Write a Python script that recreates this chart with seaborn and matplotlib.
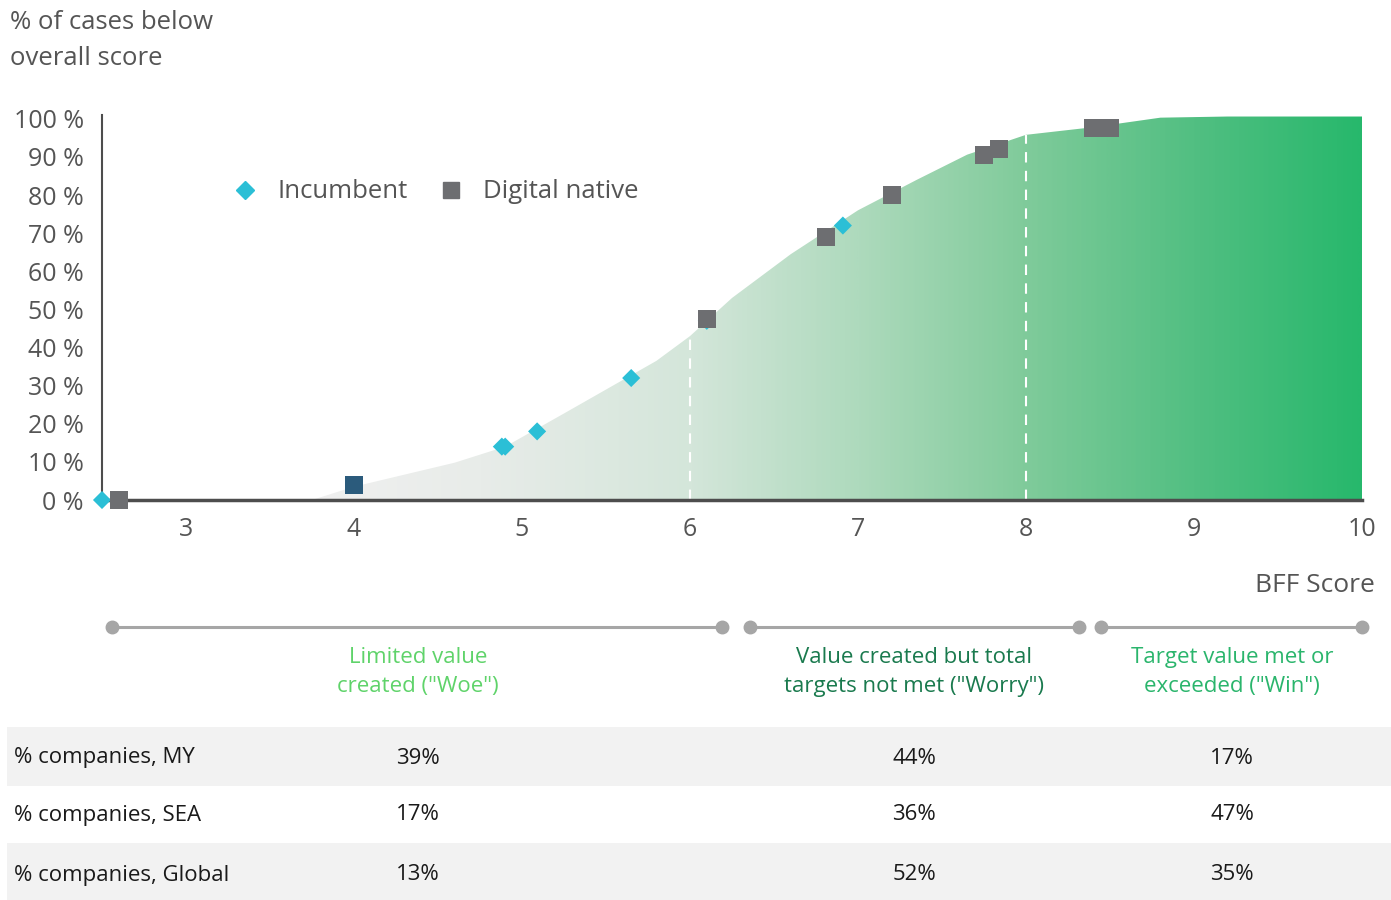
import numpy as np
import matplotlib
matplotlib.use("Agg")
import matplotlib.pyplot as plt
import seaborn as sns
from matplotlib.colors import LinearSegmentedColormap
from matplotlib.lines import Line2D

# cumulative share of cases below a given overall score
curve_score = [3.75, 4.0, 4.6, 4.9, 5.25, 5.8, 6.0, 6.25, 6.6, 7.0, 7.35, 7.65, 8.0, 8.4, 8.8, 9.2, 10.0]
curve_pct = [0, 3.5, 9.8, 14, 22.7, 36.5, 43, 53, 64.5, 76, 84, 90.6, 95.8, 97.8, 100.3, 100.6, 100.6]

incumbent_score = [2.5, 4.88, 4.9, 5.09, 5.65, 6.1, 6.91]
incumbent_pct = [0, 14, 14, 18, 32, 47, 72]

native_score = [2.6, 4.0, 6.1, 6.81, 7.2, 7.75, 7.84, 8.4, 8.5]
native_pct = [0, 4, 47.5, 69, 80, 90.5, 92, 97.5, 97.5]

y_ticks = [0, 10, 20, 30, 40, 50, 60, 70, 80, 90, 100]
x_ticks = [3, 4, 5, 6, 7, 8, 9, 10]
thresholds = [6, 8]

zones = ['Limited value\ncreated ("Woe")',
         'Value created but total\ntargets not met ("Worry")',
         'Target value met or\nexceeded ("Win")']
row_labels = ['% companies, MY', '% companies, SEA', '% companies, Global']
share_my = [39, 44, 17]
share_sea = [17, 36, 47]
share_global = [13, 52, 35]

sns.set_theme(style="white")
plt.rcParams['font.family'] = ['Open Sans', 'DejaVu Sans']

text_grey = '#555555'
fig = plt.figure(figsize=(13.91, 9), dpi=100)

# --- main chart ---
ax = fig.add_axes([102 / 1391, 1 - 500 / 900, 1260 / 1391, 385 / 900])
ax.set_xlim(2.5, 10.0)
ax.set_ylim(0, 101)

grad_cmap = LinearSegmentedColormap.from_list('bff', [
    (0.0, '#f2f2f2'), (0.167, '#f0f0f0'), (0.3, '#e8ece9'), (0.467, '#d4e6da'),
    (0.6, '#aedabd'), (0.733, '#80cb9b'), (0.867, '#52bf82'), (1.0, '#27b86c')])
poly = ax.fill_between(curve_score, 0, curve_pct, color='none', lw=0)
img = ax.imshow(np.linspace(0, 1, 512).reshape(1, -1), extent=[2.5, 10, 0, 101],
                aspect='auto', cmap=grad_cmap, origin='lower', zorder=1)
img.set_clip_path(poly.get_paths()[0], transform=ax.transData)

for thr in thresholds:
    top = np.interp(thr, curve_score, curve_pct)
    ax.plot([thr, thr], [0, top], color='white', lw=1.5, ls=(0, (5, 4)), zorder=2)

sns.scatterplot(x=incumbent_score, y=incumbent_pct, marker='D', s=85, color='#2bbfd6',
                edgecolor='none', ax=ax, zorder=4, clip_on=False)
sns.scatterplot(x=native_score, y=native_pct, marker='s', s=165, color='#6d6e71',
                edgecolor='none', ax=ax, zorder=5, clip_on=False)
hl = [i for i, v in enumerate(native_score) if v == 4.0]
sns.scatterplot(x=[native_score[i] for i in hl], y=[native_pct[i] for i in hl], marker='s',
                s=165, color='#2b5b7c', edgecolor='none', ax=ax, zorder=6)

ax.set_xticks(x_ticks)
ax.set_xticklabels([str(t) for t in x_ticks], fontsize=18, color=text_grey)
ax.set_yticks(y_ticks)
ax.set_yticklabels([f'{t} %' for t in y_ticks], fontsize=18, color=text_grey)
ax.tick_params(axis='y', length=0, pad=13)
ax.tick_params(axis='x', length=0, pad=12)
for side in ['top', 'right']:
    ax.spines[side].set_visible(False)
ax.spines['left'].set_color('#4d4d4d')
ax.spines['left'].set_linewidth(1.5)
ax.spines['bottom'].set_color('#4d4d4d')
ax.spines['bottom'].set_linewidth(2.5)
ax.spines['left'].set_zorder(3)
ax.spines['bottom'].set_zorder(3)

handles = [Line2D([], [], marker='D', ls='none', color='#2bbfd6', markersize=9),
           Line2D([], [], marker='s', ls='none', color='#6d6e71', markersize=11)]
leg = ax.legend(handles, ['Incumbent', 'Digital native'], ncol=2, frameon=False,
                loc='center left', bbox_to_anchor=(0.075, 0.80), fontsize=18.5,
                handletextpad=0.25, columnspacing=0.7)
for t in leg.get_texts():
    t.set_color(text_grey)

fig.text(10 / 1391, 1 - 10 / 900, '% of cases below\noverall score', fontsize=18.5,
         color=text_grey, va='top', ha='left', linespacing=1.6)
fig.text(1375 / 1391, 1 - 585 / 900, 'BFF Score', fontsize=19, color=text_grey,
         va='center', ha='right')

# --- bottom panel in pixel coordinates ---
bx = fig.add_axes([0, 0, 1, 1], zorder=-1)
bx.set_xlim(0, 1391)
bx.set_ylim(900, 0)
bx.axis('off')

segments = [(112, 722), (750, 1079), (1101, 1362)]
for x0, x1 in segments:
    bx.plot([x0, x1], [627, 627], color='#a6a6a6', lw=2.2, solid_capstyle='butt')
    bx.plot([x0, x1], [627, 627], ls='none', marker='o', color='#a6a6a6', markersize=9)

zone_x = [418, 914, 1232]
zone_colors = ['#5fd36a', '#1a7a4e', '#2ab56c']
for zx, label, c in zip(zone_x, zones, zone_colors):
    bx.text(zx, 672, label, ha='center', va='center', fontsize=16, color=c, linespacing=1.45)

row_y = [758, 815, 875]
row_bands = [(727, 786), (786, 843), (843, 900)]
for i, (label, vals) in enumerate(zip(row_labels, [share_my, share_sea, share_global])):
    y0, y1 = row_bands[i]
    if i % 2 == 0:
        bx.fill_between([7, 1391], y0, y1, color='#f2f2f2', lw=0)
    bx.text(14, row_y[i], label, ha='left', va='center', fontsize=16, color='#1a1a1a')
    for zx, v in zip(zone_x, vals):
        bx.text(zx, row_y[i], f'{v}%', ha='center', va='center', fontsize=16, color='#1a1a1a')

fig.savefig('out.png', dpi=100)
